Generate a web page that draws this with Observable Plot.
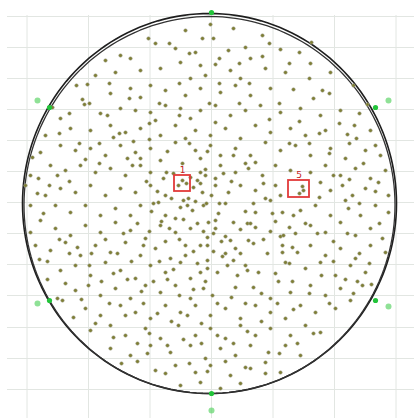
<!DOCTYPE html>
<html>
<head>
<meta charset="utf-8">
<script src="https://cdn.jsdelivr.net/npm/d3@7"></script>
<script src="https://cdn.jsdelivr.net/npm/@observablehq/plot@0.6"></script>
<style>
  html, body { margin: 0; padding: 0; background: #fff; }
  svg { display: block; }
</style>
</head>
<body>
<div id="chart"></div>
<script>
// Wafer map: defect locations in wafer coordinates (origin at wafer centre, y grows downward)
const gridX = [-182.5, -121, -59.5, 2, 63.5, 125, 186.5];
const gridY = [-187, -156, -125, -94, -63, -32, -1, 30, 61, 92, 124, 155, 186];

const defects = [
  [-61,-165],[-54,-160],[-7,-165],[4,-165],[1,-179],[24,-175],[53,-168],[-24,-173],
  [71,-154],[90,-151],[102,-161],[-34,-155],[-14,-151],[19,-153],[36,-156],[-89,-148],[-79,-145],[-104,-143],[41,-145],[53,-147],
  [101,-140],[-29,-141],[-9,-138],[6,-139],[21,-133],[-49,-135],[-69,-133],[-94,-131],[-114,-128],[56,-135],[76,-131],[121,-131],[-4,-128],[-19,-125],[31,-125],
  [-133,-118],[-122,-119],[-127,-104],[-99,-110],[84,-114],[113,-113],[104,-105],[144,-118],[-79,-115],[-59,-118],[-44,-113],[-9,-115],[11,-111],[26,-118],[41,-108],[61,-115],[-24,-108],[-69,-106],
  [-125,-99],[-109,-90],[-102,-88],[-157,-96],[158,-99],[-89,-95],[-74,-93],[-59,-91],[-44,-98],[-29,-95],[-9,-93],[6,-98],[21,-88],[36,-93],[51,-98],[71,-91],[91,-95],[111,-88],[131,-93],[-19,-85],[-149,-85],[-54,-83],
  [145,-78],[138,-69],[147,-65],[-139,-75],[-119,-73],[-99,-78],[-84,-71],[-69,-75],[-49,-68],[-34,-78],[-14,-73],[1,-68],[16,-75],[31,-65],[46,-78],[61,-71],[81,-75],[96,-68],[116,-73],[-164,-68],[161,-73],[6,-81],[-24,-65],
  [-177,-46],[-169,-51],[-149,-58],[-134,-53],[-119,-55],[-104,-48],[-89,-58],[-74,-51],[-59,-55],[-49,-43],[-34,-61],[-14,-53],[1,-58],[11,-48],[26,-55],[41,-48],[56,-61],[71,-53],[86,-58],[101,-48],[121,-55],[136,-45],[156,-53],[171,-48],[166,-58],[-9,-45],[-69,-45],
  [-27,-40],[-43,-31],[-46,-25],[-19,-26],[-9,-31],[-4,-34],[-4,-28],[-159,-38],[-144,-33],[-129,-38],[-114,-31],[-99,-35],[-84,-28],[-69,-38],[-59,-31],[11,-38],[26,-31],[39,-35],[53,-28],[66,-38],[81,-33],[101,-31],[116,-38],[131,-28],[146,-35],[161,-25],[176,-33],[-179,-28],[-171,-25],[6,-25],[46,-41],
  [-31,-18],[-27,-23],[-23,-20],[-12,-23],[-9,-20],[-16,-16],[-7,-11],[-21,-5],[-26,-3],[93,-17],[94,-13],[90,-10],[-184,-18],[-164,-8],[-149,-15],[-134,-11],[-119,-18],[-104,-8],[-89,-15],[-74,-11],[-59,-18],[-44,-8],[6,-18],[19,-11],[31,-18],[46,-13],[56,-5],[66,-18],[111,-21],[121,-13],[133,-18],[143,-8],[156,-15],[169,-21],[179,-8],[136,-3],[71,-8],
  [-6,2],[-22,2],[-29,4],[-51,-1],[-56,0],[-17,7],[-3,0],[10,0],[16,0],[44,0],[61,-3],[73,9],[63,10],[46,9],[36,8],[9,10],[6,17],[-179,2],[-154,2],[-139,9],[-124,2],[-109,12],[-94,5],[-79,12],[-69,2],[-44,12],[-34,15],[91,7],[106,2],[121,12],[139,5],[151,12],[166,2],[179,9],
  [-1,19],[6,25],[24,19],[38,20],[41,20],[46,24],[61,28],[71,33],[74,32],[86,30],[4,30],[31,26],[-2,34],[-169,17],[-179,29],[-154,25],[-139,32],[-124,22],[-109,29],[-94,19],[-79,27],[-64,35],[-49,22],[-34,29],[-19,25],[101,22],[116,29],[131,19],[146,32],[161,25],[173,35],
  [16,33],[21,37],[39,37],[44,40],[73,42],[83,44],[-9,42],[-2,42],[26,45],[31,50],[16,50],[73,49],[88,49],[13,53],[-174,42],[-159,47],[-144,39],[-129,52],[-114,42],[-99,49],[-84,39],[-69,52],[-54,45],[-39,55],[-24,42],[101,42],[116,52],[131,45],[146,55],[161,42],[176,49],
  [24,57],[-2,57],[76,59],[36,62],[38,67],[8,69],[-2,65],[49,69],[-9,69],[-162,58],[-162,76],[-149,67],[-134,62],[-119,72],[-104,59],[-89,67],[-74,75],[-59,62],[-44,69],[-29,59],[-19,75],[96,65],[111,59],[126,72],[141,62],[156,69],
  [69,78],[83,78],[-6,85],[26,84],[44,84],[3,92],[61,95],[81,89],[-152,95],[-147,97],[-134,87],[-121,82],[-109,92],[-94,85],[-79,95],[-64,82],[-49,89],[-34,82],[-19,95],[153,82],[162,81],[144,90],[101,82],[116,92],[131,85],
  [-136,114],[-124,105],[-109,112],[-89,102],[-74,109],[-59,115],[-44,102],[-29,109],[-14,102],[1,112],[16,105],[31,115],[46,102],[61,109],[76,115],[91,102],[106,109],[126,105],[141,97],
  [-119,127],[-99,122],[-84,132],[-64,125],[-49,135],[-31,122],[-14,132],[1,125],[16,135],[31,122],[46,132],[61,125],[81,132],[96,122],[111,129],
  [-99,145],[-79,152],[-59,142],[-39,149],[-19,142],[-4,155],[11,145],[26,152],[41,142],[59,149],[76,142],[91,152],
  [-72,158],[-54,167],[-34,162],[-14,169],[1,162],[21,172],[41,165],[56,159],[71,169],
  [-29,182],[-9,179],[11,185],[31,180],
  // denser core of the map
  [-82,-45],[-77,-38],[-63,-22],[-52,-12],[-38,-5],[-14,-2],[2,-8],[14,-30],[22,-22],[-36,-30],[-58,8],[-48,18],[-40,25],[-26,16],[-12,20],[-6,28],[12,38],[-16,48],[-30,36],[-44,38],
  [-60,28],[-72,20],[-86,30],[-66,42],[-50,58],[-36,66],[-24,52],[-12,60],[4,48],[18,62],[28,72],[-4,78],[-16,86],[-30,92],[-42,76],[-56,78],[-68,88],[-82,76],[-96,70],[-78,58],
  [-92,50],[-104,36],[-118,50],[-108,78],[-100,100],[-84,112],[-66,100],[-52,110],[-38,118],[-22,112],[-8,120],[8,100],[22,94],[36,100],[52,90],[66,70],[80,60],[58,50],[54,36],[66,18],
  [80,24],[54,-20],[36,-40],[24,-48],[-2,-52],[-20,-60],[-42,-52],[-60,-64],[-76,-62],[-96,-66],[-110,-60],[-124,-44],[-140,-22],[-152,-28],[-160,-18],[-172,-10],[-166,10],[-150,36],[-132,44],[-120,62],
  [-140,50],[-170,56],[-144,80],[-128,96],[-114,120],[-96,134],[-72,140],[-60,130],[-42,142],[-26,136],[-8,140],[8,132],[24,140],[38,128],[52,118],[68,100],[84,106],[100,90],[112,72],[124,58],
  [136,76],[150,50],[138,30],[124,38],[108,30],[96,20],[84,12],[110,-6],[124,-28],[140,-24],[154,-40],[166,-12],[150,0],[170,20],[160,60],[148,78],[120,100],[104,130],[88,140],[70,150],
  [56,170],[36,164],[16,158],[-2,168],[-20,160],[-44,170],[-62,150],[-88,160],
  [-40,-160],[-20,-150],[10,-145],[30,-140],[60,-160],[80,-140],[100,-125],[120,-110],[130,-80],[150,-90],[110,-70],[90,-82],[70,-100],[40,-120],[10,-120],[-30,-120],[-50,-100],[-80,-105],[-100,-120],[-120,-100],
  [-140,-90],[-130,-60],[-150,-70],[-110,-40],[-90,-70],[-60,-80],[-30,-88],[0,-100],[30,-100],[60,-84],[80,-60],[100,-60],[120,-50],[140,-60]
];

// Flat / notch reference marks on the wafer edge and just outside it
const edgeMarks = [[2,-191],[-160,-96],[-160,97],[166,-96],[166,97],[2,190]];
const outerMarks = [[-172,-103],[-172,100],[179,-103],[179,103],[2,207]];

// Highlighted defect regions
const regions = [
  {id: "1", x1: -35, x2: -19, y1: -28, y2: -12},
  {id: "5", x1: 79, x2: 100, y1: -23, y2: -6}
];

// Wafer edge outline (two traced rings)
const ring = (rx, ry, dy) => d3.range(0, 361, 2).map(a => [rx * Math.cos(a * Math.PI / 180), dy + ry * Math.sin(a * Math.PI / 180)]);

const chart = Plot.plot({
  width: 414,
  height: 418,
  margin: 0,
  x: {domain: [-209, 205], axis: null},
  y: {domain: [215, -203], axis: null},
  marks: [
    Plot.ruleX(gridX, {y1: -188, y2: 215, stroke: "#e2e6e2", strokeWidth: 1}),
    Plot.ruleY(gridY, {x1: -202, x2: 205, stroke: "#e2e6e2", strokeWidth: 1}),
    Plot.line(ring(187, 190, 0), {stroke: "#1e1e1e", strokeWidth: 1.6}),
    Plot.line(ring(185.5, 188.5, 1.5), {stroke: "#333", strokeWidth: 1.3}),
    Plot.dot(defects, {x: d => d[0], y: d => d[1], r: 1.8, fill: "#7e7e34", stroke: "#a8a898", strokeWidth: 0.5}),
    Plot.dot(outerMarks, {x: d => d[0], y: d => d[1], r: 3, fill: "#5fd46a", fillOpacity: 0.7}),
    Plot.dot(edgeMarks, {x: d => d[0], y: d => d[1], r: 2.6, fill: "#22c43a"}),
    Plot.rect(regions, {x1: "x1", x2: "x2", y1: "y1", y2: "y2", fill: "none", stroke: "#e23a3a", strokeWidth: 1.8}),
    Plot.text(regions, {x: d => (d.x1 + d.x2) / 2, y: "y1", text: "id", dy: -5, fill: "#c42222", fontSize: 9, fontFamily: "DejaVu Sans"})
  ]
});
document.getElementById("chart").append(chart);
</script>
</body>
</html>
